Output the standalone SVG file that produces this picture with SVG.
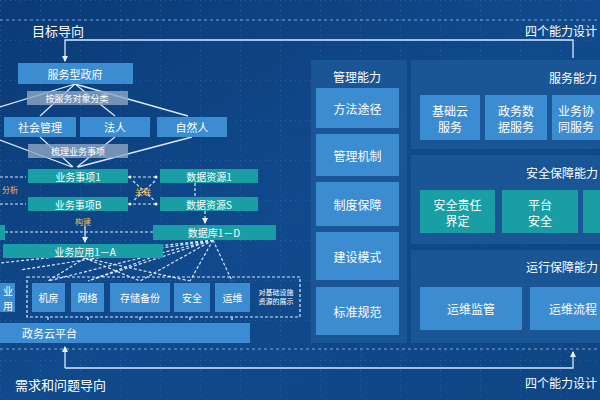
<svg xmlns="http://www.w3.org/2000/svg" width="600" height="400" viewBox="0 0 600 400">
<defs>
<linearGradient id="bg" x1="0" y1="0" x2="1" y2="1">
<stop offset="0" stop-color="#0b3a76"/>
<stop offset="0.5" stop-color="#104a8c"/>
<stop offset="1" stop-color="#0e4685"/>
</linearGradient>
<pattern id="grid" width="40" height="40" patternUnits="userSpaceOnUse">
<path d="M0 0.5H40M0.5 0V40" stroke="#3f78b8" stroke-width="1" stroke-dasharray="1 4" opacity="0.5"/>
</pattern>
<marker id="ah" viewBox="0 0 6 6" refX="5" refY="3" markerWidth="5" markerHeight="5" orient="auto">
<path d="M0 0L6 3L0 6z" fill="#e8f2ff"/>
</marker>
<style>
.t{font-family:"Noto Sans CJK SC","Liberation Sans",sans-serif;fill:#ffffff;text-anchor:middle;dominant-baseline:central}
.tl{font-family:"Noto Sans CJK SC","Liberation Sans",sans-serif;fill:#ffffff;dominant-baseline:central}
.lb{fill:#3c8cd2}
.tc{fill:#1a9ea6}
.gr{fill:#8ea6c4;opacity:0.8}
.pn{fill:#1a5696}
.ln{stroke:#d8e8ff;stroke-width:1.3;fill:none}
.dl{stroke:#d8e8ff;stroke-width:1.2;fill:none;stroke-dasharray:3 2}
.yl{font-family:"Noto Sans CJK SC","Liberation Sans",sans-serif;fill:#f2c14a;font-size:8px;text-anchor:middle;dominant-baseline:central}
</style>
</defs>
<rect width="600" height="400" fill="url(#bg)"/>
<rect width="600" height="400" fill="url(#grid)"/>
<line x1="0" y1="20" x2="600" y2="20" stroke="#9cc0ea" stroke-width="1" stroke-dasharray="3 3" opacity="0.8"/>
<line x1="0" y1="349" x2="600" y2="349" stroke="#9cc0ea" stroke-width="1" stroke-dasharray="3 3" opacity="0.8"/>

<g id="titles">
<text class="tl" x="32" y="30" font-size="13">目标导向</text>
<text class="tl" x="525" y="30" font-size="12">四个能力设计</text>
<text class="tl" x="15" y="384" font-size="13">需求和问题导向</text>
<text class="tl" x="525" y="382" font-size="12">四个能力设计</text>
</g>

<g id="connectors">
<path class="ln" d="M573 58V40H65V61" marker-end="url(#ah)"/>
<path class="ln" d="M65 368H573V352" marker-end="url(#ah)"/>
<path class="ln" d="M65 368V347" marker-end="url(#ah)"/>
<path class="ln" d="M75 84L0 107M75 84L40 116M75 84L115 116M75 84L188 116"/>
<path class="ln" d="M40 137L73 167M115 137L77 167M192 137L78 167M0 140L72 167"/>
<path class="dl" d="M0 177H26M0 204H26M128 177H158M128 204H158M133 181L155 201M155 181L133 201"/>
<path class="dl" d="M195 183V196"/>
<path class="dl" d="M205 211V223" marker-end="url(#ah)"/>
<path class="dl" d="M5 232H153"/>
<path class="ln" d="M85 226V242" marker-end="url(#ah)"/>
<path class="dl" d="M213 240L0 263M213 240L20 270M213 240L48 281M213 240L88 281M213 240L140 281M213 240L190 281M213 240L232 281M85 258L48 281M85 258L140 281M85 258L190 281M150 258L88 281"/>
<path class="dl" d="M48 317V322M88 317V322M140 317V322M190 317V322M232 317V322"/>
<circle cx="130" cy="177" r="1.5" fill="#fff"/><circle cx="156" cy="177" r="1.5" fill="#fff"/>
<circle cx="130" cy="204" r="1.5" fill="#fff"/><circle cx="156" cy="204" r="1.5" fill="#fff"/>
</g>

<g id="n-fwzf"><rect class="lb" x="18" y="63" width="115" height="21"/><text class="t" x="75" y="73.5" font-size="11">服务型政府</text></g>
<g id="n-fl"><rect class="gr" x="27" y="91" width="101" height="14"/><text class="t" x="77" y="98" font-size="9">按服务对象分类</text></g>
<g id="n-shgl"><rect class="lb" x="4" y="117" width="72" height="20"/><text class="t" x="40" y="127" font-size="11">社会管理</text></g>
<g id="n-fr"><rect class="lb" x="80" y="117" width="70" height="20"/><text class="t" x="115" y="127" font-size="11">法人</text></g>
<g id="n-zrr"><rect class="lb" x="157" y="117" width="70" height="20"/><text class="t" x="192" y="127" font-size="11">自然人</text></g>
<g id="n-sl"><rect class="gr" x="28" y="144" width="100" height="14"/><text class="t" x="78" y="151" font-size="9">梳理业务事项</text></g>
<g id="n-yw1"><rect class="tc" x="28" y="169" width="100" height="14"/><text class="t" x="78" y="176" font-size="10">业务事项1</text></g>
<g id="n-ywb"><rect class="tc" x="28" y="197" width="100" height="14"/><text class="t" x="78" y="204" font-size="10">业务事项B</text></g>
<g id="n-sj1"><rect class="tc" x="160" y="169" width="98" height="14"/><text class="t" x="209" y="176" font-size="10">数据资源1</text></g>
<g id="n-sjs"><rect class="tc" x="160" y="197" width="98" height="14"/><text class="t" x="209" y="204" font-size="10">数据资源S</text></g>
<g id="n-sjk"><rect class="tc" x="153" y="225" width="123" height="15"/><text class="t" x="214" y="232.5" font-size="10">数据库1－D</text></g>
<g id="n-left"><rect class="tc" x="0" y="225" width="5" height="15"/></g>
<g id="n-ywyy"><rect class="tc" x="3" y="244" width="160" height="14"/><text class="t" x="85" y="251" font-size="10">业务应用1－A</text></g>
<g id="labels">
<text class="yl" x="10" y="189">分析</text>
<text class="yl" x="143" y="191">关联</text>
<text class="yl" x="83" y="221">构建</text>
</g>

<g id="n-infra">
<rect x="27" y="277" width="273" height="40" fill="none" stroke="#d8e8ff" stroke-width="1.2" stroke-dasharray="3 2"/>
</g>
<g id="n-hy"><rect class="lb" x="-10" y="283" width="25" height="29"/><text class="t" x="8" y="290" font-size="10">业</text><text class="t" x="8" y="305" font-size="10">用</text></g>
<g id="n-jf"><rect class="lb" x="32" y="283" width="33" height="29"/><text class="t" x="48.5" y="297.5" font-size="10">机房</text></g>
<g id="n-wl"><rect class="lb" x="71" y="283" width="33" height="29"/><text class="t" x="87.5" y="297.5" font-size="10">网络</text></g>
<g id="n-cc"><rect class="lb" x="110" y="283" width="60" height="29"/><text class="t" x="140" y="297.5" font-size="10">存储备份</text></g>
<g id="n-aq"><rect class="lb" x="174" y="283" width="36" height="29"/><text class="t" x="192" y="297.5" font-size="10">安全</text></g>
<g id="n-yw"><rect class="lb" x="215" y="283" width="35" height="29"/><text class="t" x="232.5" y="297.5" font-size="10">运维</text></g>
<g id="n-jk"><text class="t" x="276" y="292" font-size="7">对基础设施</text><text class="t" x="276" y="301" font-size="7">资源的展示</text></g>
<g id="n-zwy"><rect class="lb" x="0" y="323" width="250" height="20"/><text class="tl" x="22" y="333" font-size="11">政务云平台</text></g>

<g id="p-gl">
<rect class="pn" x="311" y="60" width="96" height="283"/>
<text class="t" x="357" y="76" font-size="12">管理能力</text>
<rect class="lb" x="316" y="88" width="83" height="40"/><text class="t" x="357.5" y="108" font-size="12">方法途径</text>
<rect class="lb" x="316" y="134" width="83" height="42"/><text class="t" x="357.5" y="155" font-size="12">管理机制</text>
<rect class="lb" x="316" y="182" width="83" height="44"/><text class="t" x="357.5" y="204" font-size="12">制度保障</text>
<rect class="lb" x="316" y="232" width="83" height="48"/><text class="t" x="357.5" y="256" font-size="12">建设模式</text>
<rect class="lb" x="316" y="287" width="83" height="48"/><text class="t" x="357.5" y="311" font-size="12">标准规范</text>
</g>
<g id="p-fw">
<rect class="pn" x="411" y="60" width="189" height="89"/>
<text class="tl" x="549" y="77" font-size="12">服务能力</text>
<rect class="lb" x="420" y="95" width="60" height="45"/><text class="t" x="450" y="110" font-size="12">基础云</text><text class="t" x="450" y="126" font-size="12">服务</text>
<rect class="lb" x="485" y="95" width="62" height="45"/><text class="t" x="516" y="110" font-size="12">政务数</text><text class="t" x="516" y="126" font-size="12">据服务</text>
<rect class="lb" x="552" y="95" width="60" height="45"/><text class="tl" x="558" y="110" font-size="12">业务协</text><text class="tl" x="558" y="126" font-size="12">同服务</text>
</g>
<g id="p-aq">
<rect class="pn" x="411" y="155" width="189" height="89"/>
<text class="tl" x="526" y="172" font-size="12">安全保障能力</text>
<rect class="tc" x="420" y="190" width="75" height="43"/><text class="t" x="457.5" y="204" font-size="12">安全责任</text><text class="t" x="457.5" y="220" font-size="12">界定</text>
<rect class="tc" x="502" y="190" width="76" height="43"/><text class="t" x="540" y="204" font-size="12">平台</text><text class="t" x="540" y="220" font-size="12">安全</text>
<rect class="tc" x="583" y="190" width="30" height="43"/>
</g>
<g id="p-yx">
<rect class="pn" x="411" y="250" width="189" height="93"/>
<text class="tl" x="526" y="266" font-size="12">运行保障能力</text>
<rect class="lb" x="420" y="287" width="102" height="43"/><text class="t" x="471" y="308.5" font-size="12">运维监管</text>
<rect class="lb" x="530" y="287" width="80" height="43"/><text class="tl" x="549" y="308.5" font-size="12">运维流程</text>
</g>
</svg>
